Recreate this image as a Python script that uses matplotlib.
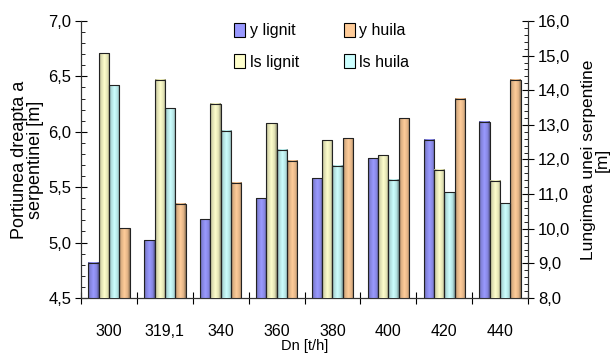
import matplotlib
matplotlib.use("Agg")
import matplotlib.pyplot as plt
import numpy as np
from matplotlib.colors import LinearSegmentedColormap, to_rgb
from matplotlib.patches import Patch
from matplotlib.ticker import FuncFormatter, MultipleLocator

plt.rcParams['font.family'] = ['Liberation Sans', 'DejaVu Sans']
plt.rcParams['font.size'] = 11

# date
categorii = ['300', '319,1', '340', '360', '380', '400', '420', '440']
y_lignit = [4.82, 5.02, 5.21, 5.40, 5.58, 5.76, 5.93, 6.09]
y_huila = [5.13, 5.35, 5.54, 5.74, 5.94, 6.12, 6.30, 6.47]
ls_lignit = [15.07, 14.30, 13.61, 13.04, 12.56, 12.12, 11.71, 11.38]
ls_huila = [14.15, 13.48, 12.83, 12.28, 11.82, 11.42, 11.06, 10.73]

c_blue = '#9999ff'
c_yellow = '#ffffcc'
c_cyan = '#ccffff'
c_orange = '#ffcc99'

fig = plt.figure(figsize=(6.14, 3.56), dpi=100)
ax = fig.add_axes([0.132, 0.163, 0.728, 0.778])
ax2 = ax.twinx()

x = np.arange(len(categorii))
w = 0.185


def gradient_cmap(col):
    b = np.array(to_rgb(col))
    stops = [(0.0, b * 0.6), (0.18, b * 0.85), (0.5, b), (0.8, b * 0.88), (1.0, b * 0.55)]
    return LinearSegmentedColormap.from_list('g', [(p, tuple(np.clip(c, 0, 1))) for p, c in stops])


def bare(axa, pos, vals, col, baza):
    # bare cu umbrire orizontala (efect 3D)
    bars = axa.bar(pos, vals, w, bottom=0, color=col, edgecolor='#222222', linewidth=0.8, zorder=3)
    cm = gradient_cmap(col)
    grad = np.linspace(0, 1, 64).reshape(1, -1)
    for b in bars:
        x0 = b.get_x()
        axa.imshow(grad, cmap=cm, aspect='auto', zorder=3.5,
                   extent=(x0, x0 + b.get_width(), baza, b.get_height()))
        b.set_facecolor('none')
        b.set_zorder(4)
    return bars


bare(ax, x - 1.5 * w, y_lignit, c_blue, 4.5)
bare(ax2, x - 0.5 * w, ls_lignit, c_yellow, 8.0)
bare(ax2, x + 0.5 * w, ls_huila, c_cyan, 8.0)
bare(ax, x + 1.5 * w, y_huila, c_orange, 4.5)

# axe
ax.set_xlim(-0.5, len(categorii) - 0.5)
ax.set_ylim(4.5, 7.0)
ax2.set_ylim(8.0, 16.0)

virgula = FuncFormatter(lambda v, p: ('%.1f' % v).replace('.', ','))
ax.yaxis.set_major_locator(MultipleLocator(0.5))
ax.yaxis.set_minor_locator(MultipleLocator(0.1))
ax.yaxis.set_major_formatter(virgula)
ax2.yaxis.set_major_locator(MultipleLocator(1.0))
ax2.yaxis.set_minor_locator(MultipleLocator(0.2))
ax2.yaxis.set_major_formatter(virgula)

ax.set_xticks(np.arange(len(categorii) + 1) - 0.5)
ax.set_xticklabels([])
ax.set_xticks(x, minor=True)
ax.set_xticklabels(categorii, minor=True)
ax.tick_params(axis='x', which='major', direction='inout', length=8, width=0.8)
ax.tick_params(axis='x', which='minor', length=0, pad=19, labelsize=11.5)

ax.tick_params(axis='y', which='major', direction='inout', length=8, width=0.8, pad=3, labelsize=12)
ax.tick_params(axis='y', which='minor', direction='in', length=3, width=0.6)
ax2.tick_params(axis='y', which='major', direction='inout', length=8, width=0.8, pad=3, labelsize=12)
ax2.tick_params(axis='y', which='minor', direction='in', length=3, width=0.6)

for a in (ax, ax2):
    a.spines['top'].set_visible(False)
    for s in a.spines.values():
        s.set_color('#333333')
        s.set_linewidth(0.8)
ax.patch.set_visible(False)

ax.set_xlabel('Dn [t/h]', fontsize=10.5, labelpad=0)
ax.set_ylabel('Portiunea dreapta a\nserpentinei [m]', fontsize=13, labelpad=3, linespacing=0.95)
ax2.set_ylabel('Lungimea unei serpentine\n[m]', fontsize=12.5, labelpad=8, linespacing=0.85)

# legenda
handles = [Patch(facecolor=c_blue, edgecolor='black', linewidth=0.8),
           Patch(facecolor=c_yellow, edgecolor='black', linewidth=0.8),
           Patch(facecolor=c_orange, edgecolor='black', linewidth=0.8),
           Patch(facecolor=c_cyan, edgecolor='black', linewidth=0.8)]
labels = ['y lignit', 'ls lignit', 'y huila', 'ls huila']
fig.legend(handles, labels, ncol=2, frameon=False, loc='upper left',
           bbox_to_anchor=(0.357, 0.975), handlelength=0.7, handleheight=0.9,
           handletextpad=0.3, labelspacing=1.0, columnspacing=2.8, fontsize=11.5)

fig.savefig('out.png', dpi=100)
